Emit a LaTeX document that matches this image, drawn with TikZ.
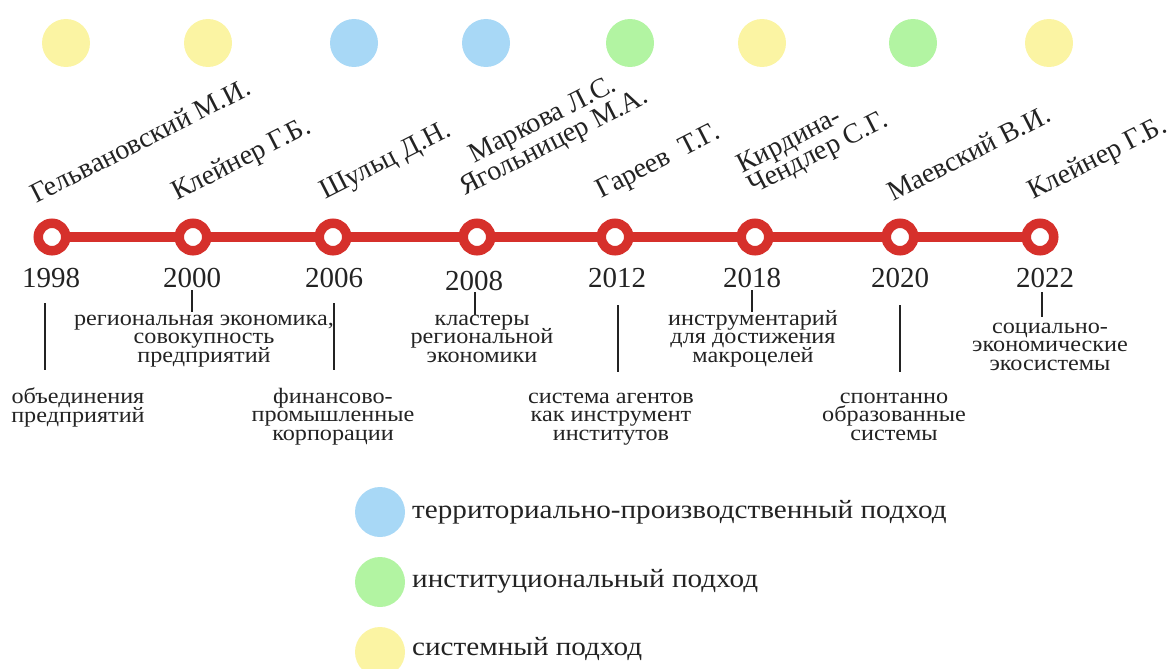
\documentclass[tikz,border=0pt]{standalone}
\usepackage{fontspec}
\setmainfont{Liberation Serif}
\newfontfamily\widefont[FakeStretch=1.1]{Liberation Serif}
\usetikzlibrary{calc,backgrounds}
\definecolor{tlred}{RGB}{214,48,43}
\definecolor{cyel}{RGB}{251,244,163}
\definecolor{cblue}{RGB}{168,216,246}
\definecolor{cgreen}{RGB}{178,244,162}
\definecolor{txt}{RGB}{35,35,35}
\begin{document}
\lineskiplimit=-100pt\relax
\begin{tikzpicture}[x=1pt,y=-1pt,
  ring/.style={circle, draw=tlred, line width=9.5pt, fill=white, minimum size=27.5pt, inner sep=0pt},
  redline/.style={draw=tlred, line width=10pt},
  dot/.style={circle, minimum size=48pt, inner sep=0pt},
  ldot/.style={circle, minimum size=50pt, inner sep=0pt},
  year/.style={font=\fontsize{29}{29}\selectfont, text=txt, anchor=base, inner sep=0pt},
  who/.style={font=\fontsize{28}{28}\selectfont, text=txt, anchor=base west, rotate=27, inner sep=0pt},
  whoc/.style={font=\fontsize{28}{28}\selectfont, text=txt, anchor=base, rotate=27, inner sep=0pt},
  desc/.style={font=\widefont\fontsize{22}{18.5}\selectfont, text=txt, align=center, anchor=base, inner sep=0pt},
  tick/.style={line width=2.2pt, draw=txt},
  legend/.style={font=\widefont\fontsize{26.5}{26.5}\selectfont, text=txt, anchor=base west, inner sep=0pt},
]
\useasboundingbox (0,0) rectangle (1173,669);

% top colour dots
\node[dot, fill=cyel]   (p1998) at (66,43) {};
\node[dot, fill=cyel]   (p2000) at (208,43) {};
\node[dot, fill=cblue]  (p2006) at (354,43) {};
\node[dot, fill=cblue]  (p2008) at (486,43) {};
\node[dot, fill=cgreen] (p2012) at (630,43) {};
\node[dot, fill=cyel]   (p2018) at (762,43) {};
\node[dot, fill=cgreen] (p2020) at (913,43) {};
\node[dot, fill=cyel]   (p2022) at (1049,43) {};

% timeline
\node[ring] (c1998) at (52,237) {};
\node[ring] (c2000) at (193,237) {};
\node[ring] (c2006) at (333,237) {};
\node[ring] (c2008) at (477,237) {};
\node[ring] (c2012) at (615,237) {};
\node[ring] (c2018) at (755,237) {};
\node[ring] (c2020) at (900,237) {};
\node[ring] (c2022) at (1040,237) {};
\begin{scope}[on background layer]
\draw[redline] (c1998.center) -- (c2000.center) -- (c2006.center) -- (c2008.center)
  -- (c2012.center) -- (c2018.center) -- (c2020.center) -- (c2022.center);
\end{scope}

% names
\node[who] (n1998) at (36,204) {Гельвановский М.И.};
\node[who] (n2000) at (177,201) {Клейнер Г.Б.};
\node[who] (n2006) at (325,200) {Шульц Д.Н.};
\node[who] (n2008b) at (465,196) {Ягольницер М.А.};
\node[whoc] (n2008a) at ($(n2008b.base)+(-11.3,-22.3)$) {Маркова Л.С.};
\node[who] (n2012) at (601,199) {Гареев~~Т.Г.};
\node[who] (n2018b) at (753,195) {Чендлер С.Г.};
\node[who] (n2018a) at ($(n2018b.base west)+(-10.9,-21.4)$) {Кирдина-};
\node[who] (n2020) at (893,202) {Маевский В.И.};
\node[who] (n2022) at (1033,200) {Клейнер Г.Б.};

% years
\node[year] (y1998) at (51,287) {1998};
\node[year] (y2000) at (192,287) {2000};
\node[year] (y2006) at (334,287) {2006};
\node[year] (y2008) at (474,290) {2008};
\node[year] (y2012) at (617,287) {2012};
\node[year] (y2018) at (752,287) {2018};
\node[year] (y2020) at (900,287) {2020};
\node[year] (y2022) at (1045,287) {2022};

% descriptions (anchor = baseline of the last line)
\node[desc] (d1998) at (78,422) {объединения\\предприятий};
\node[desc] (d2000) at (204,362) {региональная экономика,\\совокупность\\предприятий};
\node[desc] (d2006) at (333,440) {финансово-\\промышленные\\корпорации};
\node[desc] (d2008) at (482,362) {кластеры\\региональной\\экономики};
\node[desc] (d2012) at (611,440) {система агентов\\как инструмент\\институтов};
\node[desc] (d2018) at (753,362) {инструментарий\\для достижения\\макроцелей};
\node[desc] (d2020) at (894,440) {спонтанно\\образованные\\системы};
\node[desc] (d2022) at (1050,370) {социально-\\экономические\\экосистемы};

% connector lines
\coordinate (a1998) at (45,303);  \coordinate (b1998) at (45,370);
\coordinate (a2000) at (192,290); \coordinate (b2000) at (192,312);
\coordinate (a2006) at (334,303); \coordinate (b2006) at (334,370);
\coordinate (a2008) at (475,292); \coordinate (b2008) at (475,315);
\coordinate (a2012) at (618,305); \coordinate (b2012) at (618,372);
\coordinate (a2018) at (752,290); \coordinate (b2018) at (752,312);
\coordinate (a2020) at (900,305); \coordinate (b2020) at (900,372);
\coordinate (a2022) at (1042,292); \coordinate (b2022) at (1042,317);
\draw[tick] (a1998) -- (b1998);
\draw[tick] (a2000) -- (b2000);
\draw[tick] (a2006) -- (b2006);
\draw[tick] (a2008) -- (b2008);
\draw[tick] (a2012) -- (b2012);
\draw[tick] (a2018) -- (b2018);
\draw[tick] (a2020) -- (b2020);
\draw[tick] (a2022) -- (b2022);

% legend
\node[ldot, fill=cblue]  (lblue)  at (380,512) {};
\node[ldot, fill=cgreen] (lgreen) at (380,582) {};
\node[ldot, fill=cyel]   (lyel)   at (380,652) {};
\node[legend] (tblue)  at (412,518) {территориально-производственный подход};
\node[legend] (tgreen) at (412,587) {институциональный подход};
\node[legend] (tyel)   at (412,655) {системный подход};
\end{tikzpicture}
\end{document}
